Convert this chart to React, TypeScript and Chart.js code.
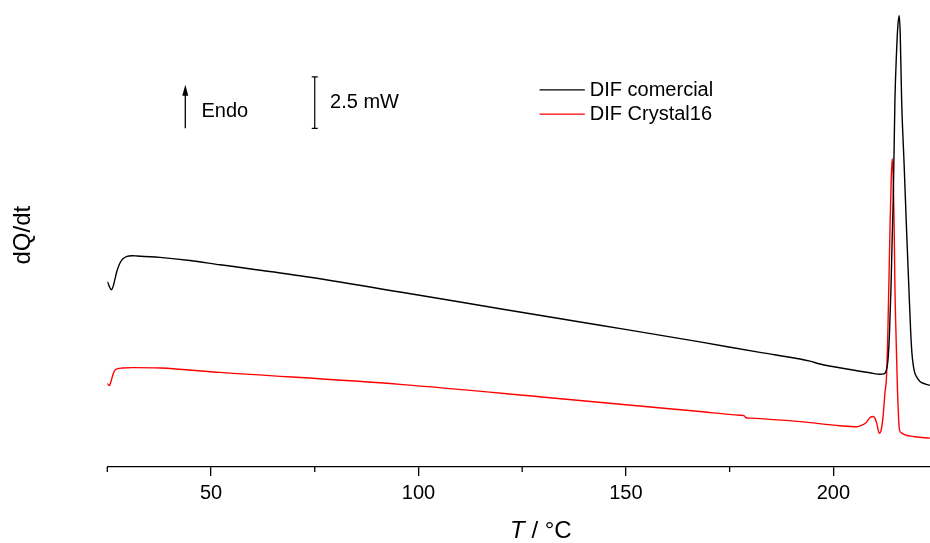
import React, { useEffect, useRef } from 'react';
import { Chart, registerables } from 'chart.js';

Chart.register(...registerables);

// ---- Data (T in °C, heat flow in mW, arbitrary offset) ----
const tempComercial = [
  25.05, 25.41, 26.01, 26.37, 26.86, 27.34, 28.06, 28.78, 29.75, 30.95, 32.16, 37.7, 44.93, 52.16,
  71.44, 95.55, 119.65, 143.75, 167.85, 182.31, 191.95, 194.36, 196.77, 204.0, 208.82, 211.23,
  212.19, 212.68, 213.16, 213.53, 213.89, 214.18, 214.44, 214.85, 215.21, 215.57, 215.89, 216.13,
  216.46, 217.07, 217.67, 218.15, 218.64, 218.95, 219.27, 219.67, 220.15, 220.88, 222.08, 223.28,
];
const dqComercial = [
  8.99, 8.79, 8.6, 8.74, 9.13, 9.52, 9.9, 10.1, 10.22, 10.25, 10.24, 10.17, 10.02, 9.81,
  9.28, 8.49, 7.68, 6.88, 6.07, 5.56, 5.24, 5.14, 5.0, 4.73, 4.57, 4.5,
  4.52, 4.64, 5.17, 6.47, 8.65, 11.06, 13.0, 17.83, 20.0, 21.45, 21.9, 20.97,
  17.83, 14.64, 11.4, 8.99, 6.57, 5.51, 4.93, 4.54, 4.35, 4.15, 4.03, 3.96,
];
const tempCrystal = [
  25.0, 25.24, 25.48, 25.89, 26.37, 26.86, 27.58, 28.54, 31.19, 37.7, 52.16, 95.55, 131.7, 167.85,
  177.49, 178.45, 178.94, 179.9, 191.95, 201.59, 205.62, 206.9, 207.86, 208.82, 209.47, 210.03,
  210.51, 211.06, 211.47, 211.95, 212.43, 212.84, 213.16, 213.64, 213.95, 214.19, 214.44, 214.68,
  214.85, 215.09, 215.45, 215.89, 216.3, 217.26, 219.67, 223.28,
];
const dqCrystal = [
  4.06, 3.99, 3.95, 4.15, 4.49, 4.7, 4.77, 4.8, 4.82, 4.8, 4.59, 4.01, 3.36, 2.69,
  2.51, 2.49, 2.39, 2.37, 2.2, 2.0, 1.95, 2.03, 2.15, 2.39, 2.45, 2.37,
  2.08, 1.64, 1.74, 2.37, 3.57, 4.46, 6.71, 11.4, 13.96, 14.96, 13.96, 11.4,
  8.65, 6.57, 3.82, 1.88, 1.67, 1.56, 1.47, 1.4,
];

const seriesLabels = ['DIF comercial', 'DIF Crystal16'];
const seriesColors = ['#000000', '#ff0000'];

const majorTicks = [50, 100, 150, 200];
const minorTicks = [25, 75, 125, 175];
const xMin = 25;
const xMax = 223.3;
const yMin = 0;
const yMax = 22.5;

const xTitleItalic = 'T';
const xTitleRest = ' / °C';
const yTitle = 'dQ/dt';
const endoLabel = 'Endo';
const scaleBarLabel = '2.5 mW';
const scaleBarValue = 2.5;

// annotation anchors (data units)
const endoArrowT = 43.8;
const endoArrowBase = 16.43;
const endoArrowTip = 18.55;
const endoTextT = 47.7;
const endoTextY = 17.26;
const scaleBarT = 75;
const scaleBarBase = 16.43;
const scaleBarTextT = 78.7;
const scaleBarTextY = 17.67;
const legendLineStartT = 129.2;
const legendLineEndT = 140.1;
const legendTextT = 141.3;
const legendRowY = [18.3, 17.12];
const xTitleCenterT = 129.5;

const FONT = '"Liberation Sans", Arial, "DejaVu Sans", sans-serif';

const overlay = {
  id: 'overlay',
  afterDraw(chart: any) {
    const { ctx, chartArea } = chart;
    const xs = chart.scales.x;
    const ys = chart.scales.y;
    ctx.save();
    ctx.strokeStyle = '#000';
    ctx.fillStyle = '#000';
    ctx.lineWidth = 1.3;

    // minor ticks
    for (const v of minorTicks) {
      const px = xs.getPixelForValue(v);
      ctx.beginPath();
      ctx.moveTo(px, chartArea.bottom);
      ctx.lineTo(px, chartArea.bottom + 5);
      ctx.stroke();
    }

    // Endo arrow
    const ax = xs.getPixelForValue(endoArrowT);
    const ay0 = ys.getPixelForValue(endoArrowBase);
    const ay1 = ys.getPixelForValue(endoArrowTip);
    ctx.beginPath();
    ctx.moveTo(ax, ay0);
    ctx.lineTo(ax, ay1 + 8);
    ctx.stroke();
    ctx.beginPath();
    ctx.moveTo(ax, ay1);
    ctx.lineTo(ax - 3, ay1 + 11);
    ctx.lineTo(ax + 3, ay1 + 11);
    ctx.closePath();
    ctx.fill();

    ctx.font = `20px ${FONT}`;
    ctx.textBaseline = 'middle';
    ctx.textAlign = 'left';
    ctx.fillText(endoLabel, xs.getPixelForValue(endoTextT), ys.getPixelForValue(endoTextY));

    // scale bar
    const sx = xs.getPixelForValue(scaleBarT);
    const sy0 = ys.getPixelForValue(scaleBarBase);
    const sy1 = ys.getPixelForValue(scaleBarBase + scaleBarValue);
    ctx.lineWidth = 1.2;
    ctx.beginPath();
    ctx.moveTo(sx, sy0);
    ctx.lineTo(sx, sy1);
    ctx.moveTo(sx - 3, sy0);
    ctx.lineTo(sx + 3, sy0);
    ctx.moveTo(sx - 3, sy1);
    ctx.lineTo(sx + 3, sy1);
    ctx.stroke();
    ctx.fillText(scaleBarLabel, xs.getPixelForValue(scaleBarTextT), ys.getPixelForValue(scaleBarTextY));

    // legend
    chart.data.datasets.forEach((ds: any, i: number) => {
      const ly = ys.getPixelForValue(legendRowY[i]);
      ctx.strokeStyle = ds.borderColor;
      ctx.lineWidth = 1.3;
      ctx.beginPath();
      ctx.moveTo(xs.getPixelForValue(legendLineStartT), ly);
      ctx.lineTo(xs.getPixelForValue(legendLineEndT), ly);
      ctx.stroke();
      ctx.fillStyle = '#000';
      ctx.fillText(ds.label, xs.getPixelForValue(legendTextT), ly + 0.5);
    });

    // x title
    ctx.fillStyle = '#000';
    ctx.font = `italic 24px ${FONT}`;
    const wItal = ctx.measureText(xTitleItalic).width;
    ctx.font = `24px ${FONT}`;
    const wRest = ctx.measureText(xTitleRest).width;
    const cx = xs.getPixelForValue(xTitleCenterT);
    const ty = chartArea.bottom + 64.5;
    const startX = cx - (wItal + wRest) / 2;
    ctx.font = `italic 24px ${FONT}`;
    ctx.fillText(xTitleItalic, startX, ty);
    ctx.font = `24px ${FONT}`;
    ctx.fillText(xTitleRest, startX + wItal, ty);

    // y title
    ctx.save();
    ctx.translate(chartArea.left - 84, (chartArea.top + chartArea.bottom) / 2);
    ctx.rotate(-Math.PI / 2);
    ctx.textAlign = 'center';
    ctx.font = `24px ${FONT}`;
    ctx.fillText(yTitle, 0, 0);
    ctx.restore();

    ctx.restore();
  },
};

export default function App() {
  const canvasRef = useRef<HTMLCanvasElement | null>(null);

  useEffect(() => {
    document.body.style.margin = '0';
    const canvas = canvasRef.current;
    if (!canvas) return;
    const chart = new Chart(canvas, {
      type: 'line',
      data: {
        datasets: [
          {
            label: seriesLabels[0],
            data: tempComercial.map((t, i) => ({ x: t, y: dqComercial[i] })),
            borderColor: seriesColors[0],
            backgroundColor: seriesColors[0],
            borderWidth: 1.4,
            pointRadius: 0,
            cubicInterpolationMode: 'monotone',
            fill: false,
          },
          {
            label: seriesLabels[1],
            data: tempCrystal.map((t, i) => ({ x: t, y: dqCrystal[i] })),
            borderColor: seriesColors[1],
            backgroundColor: seriesColors[1],
            borderWidth: 1.4,
            pointRadius: 0,
            cubicInterpolationMode: 'monotone',
            fill: false,
          },
        ],
      },
      options: {
        responsive: false,
        animation: false,
        events: [],
        layout: { padding: { left: 107.3, right: 0, top: 3.25, bottom: 33 } },
        plugins: {
          legend: { display: false },
          tooltip: { enabled: false },
        },
        scales: {
          x: {
            type: 'linear',
            min: xMin,
            max: xMax,
            afterBuildTicks: (scale: any) => {
              scale.ticks = majorTicks.map((v) => ({ value: v }));
            },
            border: { display: true, color: '#000', width: 1.3 },
            grid: {
              display: true,
              drawOnChartArea: false,
              drawTicks: true,
              tickLength: 9,
              color: '#000',
              tickColor: '#000',
              lineWidth: 1.3,
            },
            ticks: {
              color: '#000',
              font: { family: FONT, size: 20 },
              padding: 5,
              maxRotation: 0,
              autoSkip: false,
            },
          },
          y: {
            type: 'linear',
            display: false,
            min: yMin,
            max: yMax,
          },
        },
      },
      plugins: [overlay],
    } as any);
    return () => chart.destroy();
  }, []);

  return <canvas ref={canvasRef} width={930} height={543} style={{ display: 'block' }} />;
}
